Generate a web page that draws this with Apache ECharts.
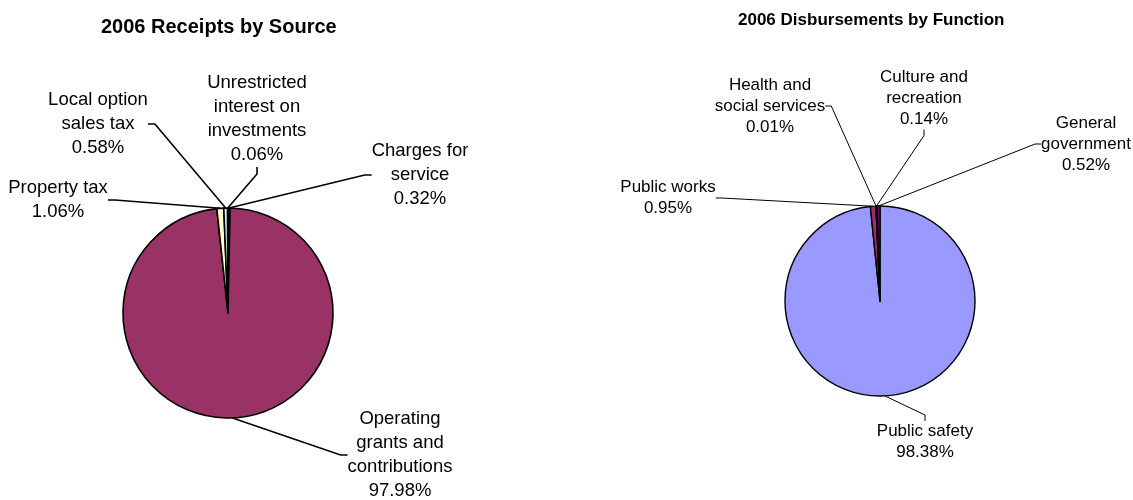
<!DOCTYPE html>
<html>
<head>
<meta charset="utf-8">
<script src="https://cdn.jsdelivr.net/npm/echarts@6/dist/echarts.min.js"></script>
<style>
  html, body { margin: 0; padding: 0; background: #ffffff; }
  #chart { width: 1133px; height: 500px; }
</style>
</head>
<body>
<div id="chart"></div>
<script>
// ---- data ----
const receiptTitle = '2006 Receipts by Source';
const receiptNames = ['Charges for\nservice', 'Operating\ngrants and\ncontributions', 'Property tax', 'Local option\nsales tax', 'Unrestricted\ninterest on\ninvestments'];
const receiptValues = [0.32, 97.98, 1.06, 0.58, 0.06];

const disbTitle = '2006 Disbursements by Function';
const disbNames = ['Public safety', 'Public works', 'Health and\nsocial services', 'Culture and\nrecreation', 'General\ngovernment'];
const disbValues = [98.38, 0.95, 0.01, 0.14, 0.52];

// ---- styling ----
const sliceColors = ['#9999FF', '#993366', '#FFFFCC', '#CCFFFF', '#660066'];
// label block centres (pixels)
const receiptLabelPos = [[420, 175], [400, 455], [58, 200], [98, 124], [257, 119]];
const disbLabelPos = [[925, 442], [668, 198], [770, 106], [924, 98], [1086, 144]];

function buildData(names, values) {
  return names.map((n, i) => ({ name: n, value: values[i], itemStyle: { color: sliceColors[i] } }));
}

const FONT = '"Liberation Sans", Arial, sans-serif';

const chart = echarts.init(document.getElementById('chart'), null, { renderer: 'canvas' });
chart.setOption({
  backgroundColor: '#ffffff',
  animation: false,
  title: [
    { text: receiptTitle, left: 96, top: 12, textStyle: { fontFamily: FONT, fontSize: 20, fontWeight: 'bold', color: '#000' } },
    { text: disbTitle, left: 733, top: 7, textStyle: { fontFamily: FONT, fontSize: 17, fontWeight: 'bold', color: '#000' } }
  ],
  series: [
    {
      type: 'pie',
      center: [228, 313],
      radius: 105,
      startAngle: 90,
      clockwise: true,
      avoidLabelOverlap: false,
      silent: true,
      data: buildData(receiptNames, receiptValues),
      itemStyle: { borderColor: '#000', borderWidth: 1.6 },
      label: { show: true, position: 'outside', formatter: '{b}\n{d}%', fontFamily: FONT, fontSize: 18.5, lineHeight: 24, color: '#000', align: 'center' },
      labelLine: { show: true, length: 5, length2: 7, lineStyle: { color: '#000', width: 1.6 } },
      labelLayout: function (p) {
        const pos = receiptLabelPos[p.dataIndex];
        return { x: pos[0], y: pos[1], align: 'center', verticalAlign: 'middle' };
      },
      emphasis: { disabled: true }
    },
    {
      type: 'pie',
      center: [880, 301],
      radius: 95,
      startAngle: 90,
      clockwise: true,
      avoidLabelOverlap: false,
      silent: true,
      data: buildData(disbNames, disbValues),
      itemStyle: { borderColor: '#000', borderWidth: 1.4 },
      label: { show: true, position: 'outside', formatter: '{b}\n{d}%', fontFamily: FONT, fontSize: 17, lineHeight: 21, color: '#000', align: 'center' },
      labelLine: { show: true, length: 5, length2: 6, lineStyle: { color: '#000', width: 1 } },
      labelLayout: function (p) {
        const pos = disbLabelPos[p.dataIndex];
        return { x: pos[0], y: pos[1], align: 'center', verticalAlign: 'middle' };
      },
      emphasis: { disabled: true }
    }
  ]
});
</script>
</body>
</html>
